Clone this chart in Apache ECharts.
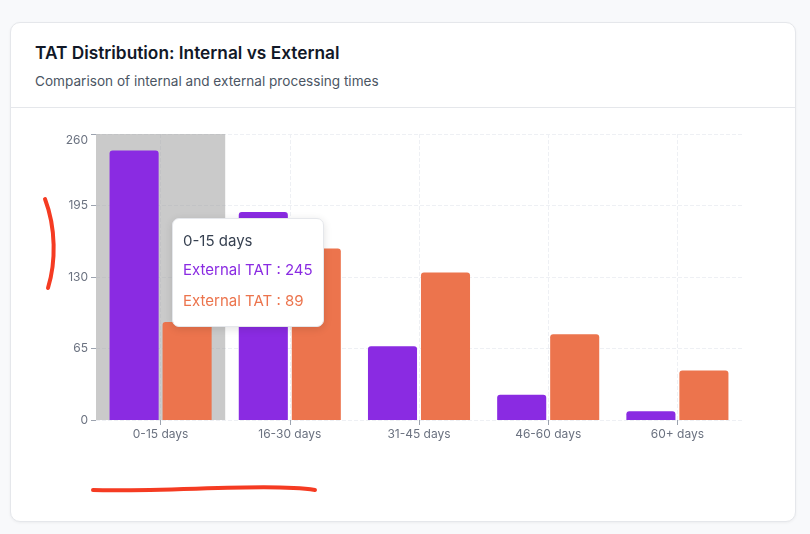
<!DOCTYPE html>
<html>
<head>
<meta charset="utf-8">
<script src="https://cdn.jsdelivr.net/npm/echarts@6/dist/echarts.min.js"></script>
<style>
  html, body { margin:0; padding:0; width:810px; height:534px; background:#f8f9fb; overflow:hidden; font-family:Inter, "Noto Sans", sans-serif; }
  .card { position:absolute; left:10px; top:22px; width:786px; height:500px; background:#fff; border:1px solid #e5e7eb; border-radius:10px; box-shadow:0 1px 3px rgba(0,0,0,0.05); box-sizing:border-box; }
  .title { position:absolute; left:24px; top:19px; font-size:17.3px; font-weight:600; color:#111827; }
  .sub { position:absolute; left:24px; top:50px; font-size:13.6px; color:#4b5563; }
  .divider { position:absolute; left:0; right:0; top:84px; height:1px; background:#e5e7eb; }
  #chart { position:absolute; left:0; top:0; width:810px; height:534px; }
</style>
</head>
<body>
<div class="card">
  <div class="title">TAT Distribution: Internal vs External</div>
  <div class="sub">Comparison of internal and external processing times</div>
  <div class="divider"></div>
</div>
<div id="chart"></div>
<script>
const categories = ['0-15 days', '16-30 days', '31-45 days', '46-60 days', '60+ days'];
const internalValues = [245, 189, 67, 23, 8];
const externalValues = [89, 156, 134, 78, 45];
const seriesNames = ['External TAT', 'External TAT'];
const yTicks = { min: 0, max: 260, interval: 65 };
const colors = ['#8a2be2', '#ec744d'];

const chart = echarts.init(document.getElementById('chart'), null, { renderer: 'canvas' });
chart.setOption({
  animation: false,
  backgroundColor: 'transparent',
  textStyle: { fontFamily: 'Inter' },
  grid: { left: 96, right: 68, top: 134, bottom: 114 },
  tooltip: {
    trigger: 'axis',
    alwaysShowContent: true,
    triggerOn: 'none',
    position: [172, 218],
    axisPointer: { type: 'shadow', z: 0, shadowStyle: { color: 'rgba(150,150,150,0.5)' } },
    backgroundColor: '#fff',
    borderColor: '#e5e7eb',
    borderWidth: 1,
    padding: [12, 12, 14, 10],
    extraCssText: 'border-radius:7px;box-shadow:0 2px 8px rgba(0,0,0,0.12);width:152px;height:109px;box-sizing:border-box;',
    formatter: function (params) {
      let html = '<div style="font-size:15px;line-height:20px;color:#374151;font-family:Inter">' + params[0].axisValue + '</div>';
      params.forEach(function (p, i) {
        html += '<div style="font-size:15px;line-height:20px;margin-top:' + (i === 0 ? 9 : 11) + 'px;color:' + p.color + ';font-family:Inter">' + p.seriesName + ' : ' + p.value + '</div>';
      });
      return html;
    }
  },
  xAxis: {
    type: 'category',
    data: categories,
    axisLine: { show: false },
    axisTick: { show: true, alignWithLabel: true, length: 5, lineStyle: { color: '#9ca3af' } },
    axisLabel: { color: '#6b7280', fontSize: 12, margin: 8 },
    splitLine: { show: true, alignWithLabel: true, lineStyle: { type: 'dashed', color: '#eef0f4' } }
  },
  yAxis: {
    type: 'value',
    min: yTicks.min,
    max: yTicks.max,
    interval: yTicks.interval,
    axisLine: { show: false },
    axisTick: { show: true, length: 5, lineStyle: { color: '#9ca3af' } },
    axisLabel: { color: '#6b7280', fontSize: 12, margin: 8, verticalAlignMaxLabel: 'top' },
    splitLine: { show: true, lineStyle: { type: 'dashed', color: '#eef0f4' } }
  },
  series: [
    { name: seriesNames[0], type: 'bar', z: 5, data: internalValues, barCategoryGap: '21%', barGap: '8%',
      emphasis: { disabled: true },
      itemStyle: { color: colors[0], borderRadius: [3, 3, 0, 0] } },
    { name: seriesNames[1], type: 'bar', z: 5, data: externalValues,
      emphasis: { disabled: true },
      itemStyle: { color: colors[1], borderRadius: [3, 3, 0, 0] } }
  ],
  graphic: [
    { type: 'bezierCurve', silent: true, z: 100,
      shape: { x1: 45, y1: 199, x2: 48, y2: 288, cpx1: 56, cpy1: 228, cpx2: 56, cpy2: 262 },
      style: { stroke: '#f53b22', lineWidth: 4, lineCap: 'round', fill: null } },
    { type: 'bezierCurve', silent: true, z: 100,
      shape: { x1: 93, y1: 490, x2: 315, y2: 490, cpx1: 170, cpy1: 492, cpx2: 270, cpy2: 483 },
      style: { stroke: '#f53b22', lineWidth: 4, lineCap: 'round', fill: null } }
  ]
});
chart.dispatchAction({ type: 'showTip', seriesIndex: 0, dataIndex: 0 });
</script>
</body>
</html>
